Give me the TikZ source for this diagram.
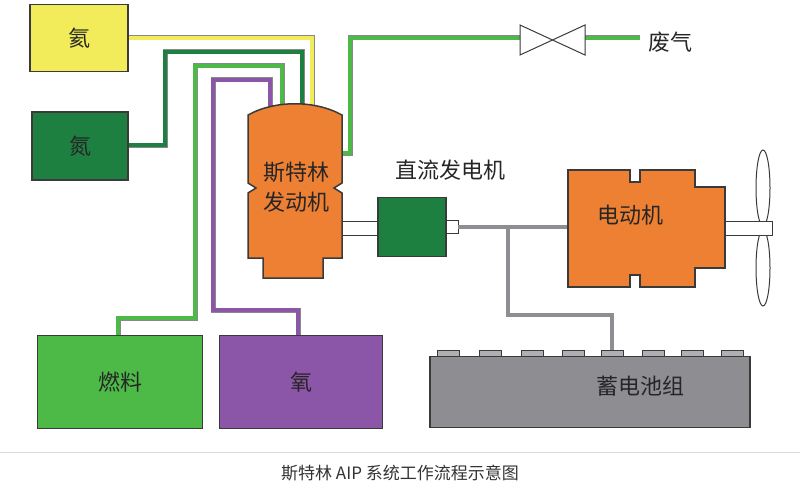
\documentclass[tikz,border=0pt]{standalone}
\usepackage{fontspec}
\setmainfont{Noto Sans CJK SC}
\usetikzlibrary{positioning,calc}
\definecolor{heyellow}{HTML}{F2EC5A}
\definecolor{ngreen}{HTML}{1E8040}
\definecolor{fuelgreen}{HTML}{4DBA48}
\definecolor{oxpurple}{HTML}{8B55A8}
\definecolor{engorange}{HTML}{EE8033}
\definecolor{batgray}{HTML}{8E8E92}
\definecolor{edge}{HTML}{3A3A3A}
\tikzset{
	tank/.style={draw=edge, line width=1.5pt, minimum width=#1, inner sep=0pt},
	pipe/.style={draw=edge!60, line width=0.5pt, double=#1, double distance=4pt},
	lbl/.style={font=\fontsize{22}{22}\selectfont, text=black!85}
}
\begin{document}
\begin{tikzpicture}[x=1pt,y=-1pt]
	\useasboundingbox (0,0) rectangle (800,500);
	% pipes
	\draw[pipe=heyellow] (128,38) -- (312,38) -- (312,106);
	\draw[pipe=ngreen] (128,145) -- (165,145) -- (165,52) -- (302,52) -- (302,106);
	\draw[pipe=fuelgreen] (118,337) -- (118,318) -- (195,318) -- (195,66) -- (282,66) -- (282,106);
	\draw[pipe=oxpurple] (298,337) -- (298,310) -- (213,310) -- (213,80) -- (270,80) -- (270,106);
	\draw[pipe=fuelgreen] (340,153) -- (350,153) -- (350,38) -- (520,38);
	\draw[pipe=fuelgreen] (585,38) -- (640,38);
	% tanks
	\node[tank=98pt, minimum height=67pt, fill=heyellow] (he) at (79,38) {};
	\node[lbl] at (he) {氦};
	\node[tank=96pt, minimum height=68pt, fill=ngreen] (n2) at (80,146) {};
	\node[lbl] at (n2) {氮};
	\node[tank=165pt, minimum height=93pt, fill=fuelgreen] (fuel) at (120,382) {};
	\node[lbl] at (fuel) {燃料};
	\node[tank=163pt, minimum height=93pt, fill=oxpurple] (ox) at (301,382) {};
	\node[lbl] at (ox) {氧};
	% valve
	\draw[edge, line width=1pt, fill=white] (520,25) -- (585,55) -- (585,25) -- (520,55) -- cycle;
	\node[lbl, anchor=west] (gas) at (645,42) {废气};
	% shafts
	\draw[edge, line width=1pt, fill=white] (340,221) rectangle (380,235);
	\draw[edge, line width=1pt, fill=white] (444,220) rectangle (458,233);
	\draw[batgray, line width=4pt] (458,227) -- (570,227);
	\draw[batgray, line width=4pt] (508,227) -- (508,315) -- (612,315) -- (612,352);
	\draw[edge, line width=1pt, fill=white] (693,221) rectangle (772,235);
	% stirling engine
	\draw[edge, line width=1.5pt, fill=engorange] (248,115) .. controls (275,100) and (315,100) .. (342,115)
		-- (342,183) -- (334,188) -- (342,193) -- (342,258) -- (323,258) -- (323,278) -- (263,278)
		-- (263,258) -- (248,258) -- (248,193) -- (256,188) -- (248,183) -- cycle;
	\node[lbl] (eng1) at (296,172) {斯特林};
	\node[lbl, below=3pt of eng1] (eng2) {发动机};
	% dc generator
	\node[tank=68pt, minimum height=59pt, fill=ngreen] (gen) at (412,227) {};
	\node[lbl] (genl) at (450,170) {直流发电机};
	% motor
	\draw[edge, line width=1.5pt, fill=engorange] (568,170) -- (630,170) -- (630,182) -- (640,182) -- (640,170)
		-- (695,170) -- (695,187) -- (725,187) -- (725,268) -- (695,268) -- (695,287) -- (640,287)
		-- (640,275) -- (630,275) -- (630,287) -- (568,287) -- cycle;
	\node[lbl] (mot) at (630,215) {电动机};
	% propeller
	\draw[edge, line width=1pt, fill=white] (763,188) ellipse (7 and 38);
	\draw[edge, line width=1pt, fill=white] (763,268) ellipse (7 and 38);
	\draw[edge, line width=1pt, fill=white] (725,221) rectangle (772,235);
	% battery
	\foreach \bx in {448,490,532,573,612,653,692,732}
		\draw[edge, line width=1pt, fill=batgray!70] (\bx-11,350) rectangle (\bx+11,358);
	\node[tank=320pt, minimum height=71pt, fill=batgray] (bat) at (590,392) {};
	\node[lbl] at (640,386) {蓄电池组};
	% caption
	\draw[black!15, line width=0.8pt] (0,452) -- (800,452);
	\node[font=\fontsize{17}{17}\selectfont, text=black!80] (cap) at (400,473) {斯特林 AIP 系统工作流程示意图};
\end{tikzpicture}
\end{document}
